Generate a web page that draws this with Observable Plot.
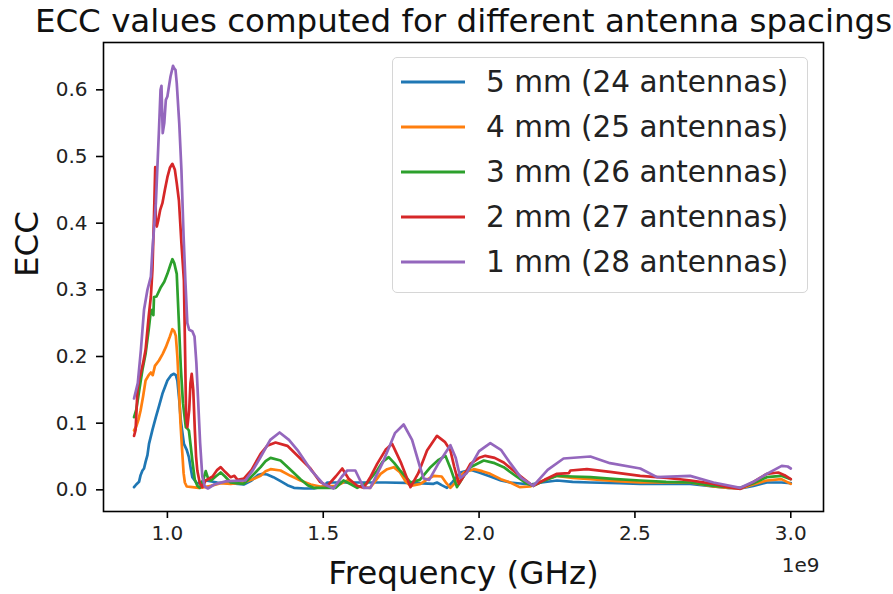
<!DOCTYPE html>
<html>
<head>
<meta charset="utf-8">
<script src="https://cdn.jsdelivr.net/npm/d3@7"></script>
<script src="https://cdn.jsdelivr.net/npm/@observablehq/plot@0.6"></script>
<style>
  html, body { margin: 0; padding: 0; background: #fff; }
  #wrap { position: relative; width: 893px; height: 594px; font-family: "DejaVu Sans", sans-serif; }
  #legend { position: absolute; left: 392px; top: 57px; width: 416px; height: 236px;
    border: 1.5px solid #d6d6d6; border-radius: 5px; background: rgba(255,255,255,0.85);
    box-sizing: border-box; }
  .row { position: absolute; left: 8px; height: 30px; display: flex; align-items: center; }
  .row svg { margin-right: 21px; }
  .row span { font-size: 29.5px; color: #222; white-space: nowrap; }
</style>
</head>
<body>
<div id="wrap"><div id="legend"></div></div>
<script>
// ---- data (frequency in GHz, ECC) ----
const titleText = "ECC values computed for different antenna spacings";
const xLabel = "Frequency (GHz)";
const yLabel = "ECC";
const offsetLabel = "1e9";
const xTicks = [1.0, 1.5, 2.0, 2.5, 3.0];
const yTicks = [0.0, 0.1, 0.2, 0.3, 0.4, 0.5, 0.6];
const seriesLabels = ["5 mm (24 antennas)", "4 mm (25 antennas)", "3 mm (26 antennas)", "2 mm (27 antennas)", "1 mm (28 antennas)"];
const seriesColors = ["#1f77b4", "#ff7f0e", "#2ca02c", "#d62728", "#9467bd"];

const ecc5mm = [[0.893,0.004],[0.9,0.008],[0.909,0.012],[0.914,0.022],[0.92,0.029],[0.925,0.032],[0.93,0.042],[0.936,0.052],[0.941,0.069],[0.952,0.09],[0.963,0.109],[0.974,0.127],[0.984,0.144],[1.0,0.164],[1.012,0.172],[1.021,0.174],[1.027,0.172],[1.032,0.164],[1.038,0.135],[1.043,0.104],[1.053,0.069],[1.062,0.06],[1.069,0.049],[1.075,0.032],[1.08,0.019],[1.096,0.009],[1.11,0.012],[1.123,0.014],[1.16,0.011],[1.2,0.01],[1.245,0.008],[1.27,0.014],[1.29,0.022],[1.305,0.024],[1.32,0.023],[1.34,0.019],[1.363,0.013],[1.385,0.007],[1.406,0.003],[1.44,0.002],[1.47,0.002],[1.5,0.005],[1.513,0.011],[1.6,0.011],[1.7,0.011],[1.8,0.01],[1.854,0.009],[1.865,0.011],[1.88,0.007],[1.897,0.003],[1.915,0.012],[1.94,0.026],[1.972,0.03],[2.0,0.026],[2.036,0.02],[2.07,0.014],[2.1,0.011],[2.164,0.008],[2.2,0.011],[2.25,0.014],[2.3,0.012],[2.357,0.011],[2.45,0.01],[2.517,0.009],[2.6,0.009],[2.677,0.009],[2.752,0.005],[2.8,0.003],[2.838,0.002],[2.88,0.006],[2.923,0.011],[2.97,0.011],[3.0,0.01]];

const ecc4mm = [[0.893,0.089],[0.9,0.095],[0.907,0.105],[0.914,0.119],[0.922,0.14],[0.93,0.164],[0.94,0.172],[0.947,0.176],[0.953,0.172],[0.96,0.186],[0.973,0.194],[0.985,0.204],[0.995,0.214],[1.008,0.23],[1.016,0.241],[1.022,0.238],[1.027,0.231],[1.032,0.2],[1.037,0.154],[1.042,0.1],[1.048,0.054],[1.052,0.025],[1.056,0.011],[1.062,0.005],[1.08,0.004],[1.1,0.003],[1.12,0.004],[1.139,0.006],[1.171,0.01],[1.203,0.009],[1.245,0.011],[1.27,0.015],[1.299,0.021],[1.315,0.028],[1.331,0.031],[1.363,0.029],[1.395,0.021],[1.427,0.014],[1.46,0.008],[1.49,0.005],[1.54,0.006],[1.56,0.01],[1.577,0.014],[1.595,0.01],[1.609,0.005],[1.65,0.003],[1.665,0.012],[1.684,0.024],[1.705,0.031],[1.726,0.034],[1.745,0.027],[1.765,0.012],[1.78,0.006],[1.812,0.009],[1.835,0.016],[1.855,0.021],[1.88,0.02],[1.895,0.01],[1.908,0.003],[1.93,0.014],[1.951,0.026],[1.983,0.031],[2.01,0.028],[2.036,0.024],[2.07,0.016],[2.1,0.011],[2.13,0.004],[2.164,0.005],[2.2,0.013],[2.25,0.021],[2.3,0.018],[2.357,0.016],[2.44,0.013],[2.517,0.011],[2.6,0.011],[2.677,0.011],[2.752,0.005],[2.8,0.003],[2.838,0.002],[2.88,0.008],[2.923,0.014],[2.97,0.016],[3.0,0.009]];

const ecc3mm = [[0.893,0.109],[0.9,0.12],[0.91,0.15],[0.92,0.18],[0.93,0.204],[0.94,0.24],[0.947,0.269],[0.952,0.27],[0.955,0.262],[0.957,0.289],[0.965,0.29],[0.979,0.304],[0.99,0.312],[1.0,0.324],[1.01,0.338],[1.016,0.346],[1.022,0.34],[1.03,0.324],[1.036,0.26],[1.043,0.184],[1.05,0.13],[1.059,0.094],[1.064,0.092],[1.069,0.089],[1.075,0.065],[1.08,0.044],[1.088,0.015],[1.096,0.006],[1.104,0.003],[1.115,0.015],[1.123,0.028],[1.13,0.018],[1.14,0.014],[1.155,0.02],[1.171,0.026],[1.185,0.02],[1.203,0.011],[1.245,0.009],[1.27,0.02],[1.299,0.034],[1.315,0.043],[1.331,0.048],[1.363,0.044],[1.4,0.028],[1.427,0.016],[1.45,0.007],[1.469,0.003],[1.54,0.003],[1.565,0.014],[1.59,0.008],[1.609,0.003],[1.64,0.01],[1.673,0.029],[1.69,0.042],[1.71,0.049],[1.728,0.04],[1.745,0.03],[1.78,0.011],[1.81,0.015],[1.844,0.034],[1.87,0.045],[1.892,0.051],[1.91,0.03],[1.929,0.004],[1.95,0.02],[1.972,0.034],[2.015,0.044],[2.05,0.04],[2.079,0.034],[2.12,0.02],[2.154,0.009],[2.174,0.006],[2.21,0.014],[2.25,0.021],[2.3,0.02],[2.357,0.019],[2.44,0.016],[2.517,0.014],[2.6,0.012],[2.677,0.011],[2.752,0.006],[2.8,0.004],[2.838,0.003],[2.88,0.01],[2.923,0.019],[2.97,0.021],[3.0,0.016]];

const ecc2mm = [[0.893,0.081],[0.898,0.09],[0.904,0.15],[0.909,0.165],[0.914,0.174],[0.922,0.19],[0.93,0.21],[0.94,0.26],[0.947,0.29],[0.952,0.33],[0.957,0.41],[0.961,0.484],[0.963,0.4],[0.966,0.395],[0.971,0.405],[0.977,0.42],[0.984,0.43],[0.992,0.45],[1.0,0.469],[1.008,0.483],[1.016,0.489],[1.024,0.48],[1.03,0.46],[1.037,0.434],[1.045,0.37],[1.053,0.314],[1.057,0.2],[1.06,0.11],[1.064,0.094],[1.07,0.12],[1.074,0.16],[1.078,0.174],[1.083,0.15],[1.088,0.09],[1.092,0.05],[1.096,0.029],[1.104,0.01],[1.112,0.004],[1.123,0.014],[1.145,0.02],[1.16,0.03],[1.171,0.034],[1.185,0.027],[1.203,0.019],[1.215,0.021],[1.225,0.015],[1.246,0.017],[1.27,0.03],[1.299,0.054],[1.32,0.066],[1.347,0.071],[1.385,0.066],[1.42,0.05],[1.459,0.032],[1.49,0.012],[1.513,0.006],[1.54,0.02],[1.561,0.032],[1.581,0.017],[1.609,0.006],[1.63,0.003],[1.65,0.018],[1.673,0.039],[1.7,0.06],[1.721,0.069],[1.75,0.04],[1.78,0.004],[1.805,0.025],[1.833,0.059],[1.865,0.081],[1.89,0.072],[1.908,0.059],[1.92,0.035],[1.935,0.009],[1.95,0.02],[1.972,0.039],[2.0,0.048],[2.02,0.051],[2.05,0.048],[2.079,0.041],[2.12,0.025],[2.164,0.009],[2.174,0.006],[2.21,0.015],[2.25,0.024],[2.288,0.025],[2.293,0.029],[2.346,0.031],[2.42,0.027],[2.517,0.021],[2.603,0.018],[2.68,0.014],[2.752,0.009],[2.8,0.004],[2.838,0.0015],[2.88,0.012],[2.923,0.024],[2.96,0.026],[2.98,0.022],[3.0,0.016]];

const ecc1mm = [[0.893,0.137],[0.905,0.16],[0.915,0.21],[0.925,0.27],[0.936,0.3],[0.947,0.32],[0.952,0.36],[0.963,0.43],[0.973,0.54],[0.978,0.6],[0.981,0.606],[0.983,0.57],[0.985,0.535],[0.99,0.55],[0.995,0.585],[1.0,0.59],[1.01,0.62],[1.018,0.636],[1.022,0.632],[1.026,0.63],[1.03,0.61],[1.038,0.55],[1.045,0.48],[1.052,0.38],[1.058,0.31],[1.064,0.25],[1.07,0.24],[1.08,0.238],[1.087,0.23],[1.093,0.19],[1.098,0.14],[1.105,0.07],[1.112,0.02],[1.12,0.005],[1.13,0.002],[1.15,0.008],[1.19,0.013],[1.25,0.014],[1.275,0.03],[1.3,0.05],[1.33,0.075],[1.36,0.086],[1.39,0.075],[1.42,0.058],[1.46,0.03],[1.5,0.009],[1.533,0.002],[1.56,0.02],[1.577,0.029],[1.603,0.029],[1.63,0.003],[1.651,0.003],[1.69,0.04],[1.73,0.085],[1.758,0.098],[1.785,0.075],[1.81,0.035],[1.822,0.017],[1.84,0.015],[1.87,0.04],[1.908,0.067],[1.925,0.048],[1.94,0.018],[1.96,0.025],[2.0,0.058],[2.036,0.07],[2.07,0.06],[2.1,0.04],[2.135,0.018],[2.174,0.006],[2.22,0.03],[2.271,0.047],[2.357,0.05],[2.42,0.04],[2.517,0.032],[2.571,0.019],[2.677,0.021],[2.752,0.011],[2.838,0.003],[2.88,0.012],[2.923,0.024],[2.971,0.036],[2.99,0.035],[3.0,0.032]];

const seriesData = [ecc5mm, ecc4mm, ecc3mm, ecc2mm, ecc1mm];

// build a flat table for Plot
const table = seriesData.flatMap((arr, i) => arr.map(([f, v]) => ({freq: f, ecc: v, series: seriesLabels[i]})));

const chart = Plot.plot({
  width: 893,
  height: 594,
  marginLeft: 103,
  marginRight: 70,
  marginTop: 42,
  marginBottom: 83,
  style: {fontFamily: "DejaVu Sans, sans-serif", color: "#000", background: "transparent"},
  x: {domain: [0.795, 3.105]},
  y: {domain: [-0.0325, 0.671]},
  color: {domain: seriesLabels, range: seriesColors},
  marks: [
    Plot.line(table, {x: "freq", y: "ecc", z: "series", stroke: "series", strokeWidth: 2.7, strokeLinejoin: "round"}),
    Plot.frame({stroke: "#000", strokeWidth: 1.6}),
    Plot.axisX({ticks: xTicks, tickFormat: d3.format(".1f"), tickSize: 7, tickPadding: 7, fontSize: 20, label: null, strokeWidth: 1.6, fill: "#222"}),
    Plot.axisY({ticks: yTicks, tickFormat: d3.format(".1f"), tickSize: 7, tickPadding: 9, fontSize: 20, label: null, strokeWidth: 1.6, fill: "#222"}),
    Plot.text([titleText], {frameAnchor: "top", lineAnchor: "middle", dy: -21, fontSize: 32.5, fill: "#111"}),
    Plot.text([xLabel], {frameAnchor: "bottom", lineAnchor: "middle", dy: 62, fontSize: 32.5, fill: "#111"}),
    Plot.text([yLabel], {frameAnchor: "left", lineAnchor: "middle", dx: -76, rotate: -90, fontSize: 32.5, fill: "#111"}),
    Plot.text([offsetLabel], {frameAnchor: "bottom-right", lineAnchor: "middle", dx: -4, dy: 54, textAnchor: "end", fontSize: 20, fill: "#222"})
  ]
});
const wrap = document.getElementById("wrap");
wrap.insertBefore(chart, wrap.firstChild);

// legend
const legend = document.getElementById("legend");
seriesLabels.forEach((lab, i) => {
  const row = document.createElement("div");
  row.className = "row";
  row.style.top = (9 + i * 45) + "px";
  row.innerHTML = `<svg width="64" height="6"><line x1="0" y1="3" x2="64" y2="3" stroke="${seriesColors[i]}" stroke-width="3"/></svg><span>${lab}</span>`;
  legend.appendChild(row);
});
</script>
</body>
</html>
